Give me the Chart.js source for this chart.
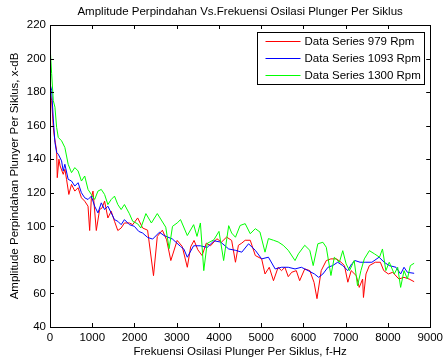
<!DOCTYPE html>
<html>
<head>
<meta charset="utf-8">
<script src="https://cdn.jsdelivr.net/npm/chart.js@4.4.1/dist/chart.umd.min.js"></script>
<style>
  html, body { margin: 0; padding: 0; background: #fff; }
  #wrap { width: 447px; height: 360px; }
</style>
</head>
<body>
<div id="wrap"><canvas id="chart" width="447" height="360"></canvas></div>
<script>
const TITLE = "Amplitude Perpindahan Vs.Frekuensi Osilasi Plunger Per Siklus";
const X_LABEL = "Frekuensi Osilasi Plunger Per Siklus, f-Hz";
const Y_LABEL = "Amplitude Perpindahan Plunyer Per Siklus, x-dB";
const SERIES_NAMES = ["Data Series 979 Rpm", "Data Series 1093 Rpm", "Data Series 1300 Rpm"];
const SERIES_COLORS = ["#ff0000", "#0000ff", "#00ff00"];

const freq979 = [0, 39, 78, 100, 157, 172, 211, 240, 313, 352, 392, 446, 509, 587, 665, 744, 822, 900, 939, 979,
  1018, 1096, 1174, 1233, 1292, 1370, 1449, 1527, 1605, 1684, 1762, 1880, 1958, 2075, 2193, 2310, 2450, 2540, 2660, 2760,
  2860, 3010, 3130, 3250, 3330, 3410, 3500, 3600, 3700, 3800, 3950, 4060, 4180, 4300, 4390, 4460, 4540, 4620, 4740, 4860,
  5010, 5090, 5190, 5290, 5400, 5480, 5560, 5640, 5720, 5830, 5910, 6030, 6150, 6250, 6320, 6420, 6540, 6650, 6780, 6890,
  6970, 7050, 7130, 7250, 7320, 7400, 7420, 7480, 7560, 7700, 7820, 7900, 8010, 8110, 8260, 8380, 8500, 8620];
const amp979 = [180, 175, 159, 154, 145, 129, 140, 136, 131, 134, 128, 119, 125, 121, 123, 117, 115, 112, 97.5, 117,
  121, 97.5, 110, 111, 115, 105, 109, 103, 97.5, 99, 102, 102, 101, 105, 99, 97.7, 70.6, 94, 97.7, 92,
  79.6, 91.6, 88, 75.6, 87.8, 91.6, 86, 82.6, 90, 88.4, 92.6, 90.6, 93.6, 91.6, 78.6, 88.7, 90, 91.7, 91.7, 82.6,
  80.6, 71.6, 75.6, 67.6, 75.6, 73.6, 75.6, 70, 72.6, 73.6, 67.6, 74.6, 73.6, 66.6, 56.9, 73.6, 79.6, 80.6, 80.6, 78.6,
  76.6, 66.7, 73.6, 70.6, 63.6, 68.6, 57.6, 71.6, 76.6, 78.6, 78.6, 73.6, 71.6, 72.6, 68.6, 69.6, 68.6, 67];

const freq1093 = [0, 39, 78, 117, 157, 196, 274, 313, 352, 430, 509, 587, 665, 744, 822, 900, 979, 1057, 1135, 1214,
  1292, 1370, 1449, 1527, 1605, 1684, 1762, 1880, 1997, 2100, 2193, 2310, 2430, 2590, 2700, 2900, 3090, 3170, 3250, 3400,
  3560, 3720, 3880, 4040, 4230, 4390, 4540, 4700, 4860, 5010, 5170, 5330, 5480, 5640, 5800, 5950, 6110, 6260, 6360, 6460,
  6580, 6690, 6810, 6930, 7050, 7140, 7220, 7340, 7460, 7620, 7790, 7910, 8030, 8190, 8300, 8380, 8460, 8620];
const amp1093 = [185, 181, 164, 150, 144, 143, 139, 133, 137, 128, 127, 124, 126, 120, 117, 116, 118, 112, 108, 114,
  110, 112, 108, 104, 103, 101, 104, 101, 100, 97, 96, 93.4, 92.4, 96.5, 94.5, 92.4, 88, 86.4, 81.6, 88.4,
  88.4, 87.4, 91.4, 90.6, 86.5, 85.7, 84.6, 89.6, 85.7, 80.6, 81.6, 74.6, 75.6, 75.6, 74.6, 75.6, 73.6, 71.6, 69.6, 71.6,
  75.6, 76.6, 78.6, 76.6, 73.6, 77.6, 79.6, 78.6, 78.6, 78.6, 81.6, 78.6, 76.6, 75.6, 71.6, 75.6, 72.6, 72];

const freq1300 = [0, 39, 78, 117, 157, 196, 274, 352, 430, 509, 587, 665, 744, 822, 900, 979, 1057, 1135, 1214, 1292,
  1370, 1449, 1527, 1605, 1684, 1762, 1880, 1958, 2075, 2150, 2270, 2400, 2540, 2740, 2820, 2900, 3010, 3090, 3250, 3400,
  3480, 3560, 3640, 3720, 3880, 4000, 4110, 4230, 4300, 4390, 4500, 4620, 4740, 4860, 4970, 5090, 5170, 5290, 5400, 5520,
  5640, 5800, 5880, 6030, 6150, 6230, 6340, 6460, 6540, 6650, 6730, 6850, 6930, 7010, 7090, 7200, 7280, 7360, 7440, 7560,
  7680, 7800, 7870, 7950, 8030, 8150, 8230, 8300, 8380, 8460, 8530, 8620];
const amp1300 = [208, 191, 175, 171, 159, 153, 151, 147, 137, 132, 135, 133, 127, 130, 122, 119, 116, 121, 122, 119,
  113, 116, 118, 113, 110, 113, 107.5, 103, 101.5, 99, 107.6, 102, 107.6, 99.5, 86.7, 100, 102, 104, 94.5, 101,
  94, 102, 73.6, 89.8, 92, 97, 79.6, 100.4, 96, 93.5, 100.5, 101.6, 95.6, 98.6, 96.6, 84.6, 92.7, 91.7, 90.7, 88.7,
  85.7, 79.6, 83.6, 88.7, 85.7, 76.6, 89.6, 90.5, 87.5, 70.7, 81.6, 78.6, 85.5, 77.6, 73.6, 79.6, 64.6, 73.6, 80.6, 85.5,
  83.6, 81.6, 86.5, 73.6, 78.6, 71.6, 75.6, 63.6, 73.6, 68.6, 76.6, 78];

const FONT = "'Liberation Sans', Arial, sans-serif";
const FSIZE = 11.5;

function toPoints(xs, ys) {
  return xs.map((x, i) => ({ x, y: ys[i] }));
}

const seriesData = [
  toPoints(freq979, amp979),
  toPoints(freq1093, amp1093),
  toPoints(freq1300, amp1300),
];

// box around plot + inward ticks on all four sides, like matlab
const frameTicks = {
  id: "frameTicks",
  afterDraw(chart) {
    const { ctx, chartArea: a, scales } = chart;
    ctx.save();
    ctx.strokeStyle = "#000";
    ctx.lineWidth = 1;
    ctx.beginPath();
    scales.x.ticks.forEach((t) => {
      const px = Math.round(scales.x.getPixelForValue(t.value)) + 0.5;
      ctx.moveTo(px, a.bottom); ctx.lineTo(px, a.bottom - 4);
      ctx.moveTo(px, a.top); ctx.lineTo(px, a.top + 4);
    });
    scales.y.ticks.forEach((t) => {
      const py = Math.round(scales.y.getPixelForValue(t.value)) + 0.5;
      ctx.moveTo(a.left, py); ctx.lineTo(a.left + 4, py);
      ctx.moveTo(a.right, py); ctx.lineTo(a.right - 4, py);
    });
    ctx.stroke();
    ctx.strokeRect(Math.round(a.left) + 0.5, Math.round(a.top) + 0.5,
      Math.round(a.right - a.left), Math.round(a.bottom - a.top));

    // title centred over the axes, not the canvas
    ctx.fillStyle = "#000";
    ctx.font = FSIZE + "px " + FONT;
    ctx.textAlign = "center";
    ctx.textBaseline = "middle";
    ctx.fillText(TITLE, (a.left + a.right) / 2, 12);
    ctx.restore();
  },
};

// legend box in the upper right corner of the axes
const boxLegend = {
  id: "boxLegend",
  afterDraw(chart) {
    const { ctx, chartArea: a } = chart;
    const w = 167, h = 52;
    const x0 = Math.round(a.right - 6 - w) + 0.5;
    const y0 = Math.round(a.top + 7) + 0.5;
    ctx.save();
    ctx.fillStyle = "#fff";
    ctx.fillRect(x0, y0, w, h);
    ctx.strokeStyle = "#000";
    ctx.lineWidth = 1;
    ctx.strokeRect(x0, y0, w, h);
    ctx.font = FSIZE + "px " + FONT;
    ctx.textBaseline = "middle";
    ctx.fillStyle = "#000";
    SERIES_NAMES.forEach((name, i) => {
      const cy = y0 + 9 + i * 17;
      ctx.strokeStyle = SERIES_COLORS[i];
      ctx.beginPath();
      ctx.moveTo(x0 + 8, cy); ctx.lineTo(x0 + 43, cy);
      ctx.stroke();
      ctx.fillText(name, x0 + 47, cy);
    });
    ctx.restore();
  },
};

new Chart(document.getElementById("chart"), {
  type: "line",
  data: {
    datasets: seriesData.map((pts, i) => ({
      label: SERIES_NAMES[i],
      data: pts,
      borderColor: SERIES_COLORS[i],
      backgroundColor: SERIES_COLORS[i],
      borderWidth: 1,
      pointRadius: 0,
      tension: 0,
      fill: false,
      order: 2 - i,
    })),
  },
  options: {
    responsive: false,
    animation: false,
    devicePixelRatio: 1,
    layout: { padding: { left: 0, right: 14, top: 25, bottom: 0 } },
    plugins: {
      legend: { display: false },
      tooltip: { enabled: false },
      title: { display: false },
    },
    scales: {
      x: {
        type: "linear",
        min: 0,
        max: 9000,
        grid: { display: false, drawTicks: false },
        border: { display: false },
        ticks: { stepSize: 1000, color: "#000", padding: 4, maxRotation: 0,
          font: { family: FONT, size: FSIZE },
          callback: (v) => String(v) },
        title: { display: true, text: X_LABEL, color: "#000",
          font: { family: FONT, size: FSIZE }, padding: { top: 0, bottom: 1 } },
        afterFit(scale) { scale.height = 33; },
      },
      y: {
        type: "linear",
        min: 40,
        max: 220,
        grid: { display: false, drawTicks: false },
        border: { display: false },
        ticks: { stepSize: 20, color: "#000", padding: 4,
          font: { family: FONT, size: FSIZE },
          callback: (v) => String(v) },
        title: { display: true, text: Y_LABEL, color: "#000",
          font: { family: FONT, size: FSIZE }, padding: { top: 8, bottom: 0 } },
        afterFit(scale) { scale.width = 50; },
      },
    },
  },
  plugins: [frameTicks, boxLegend],
});
</script>
</body>
</html>
